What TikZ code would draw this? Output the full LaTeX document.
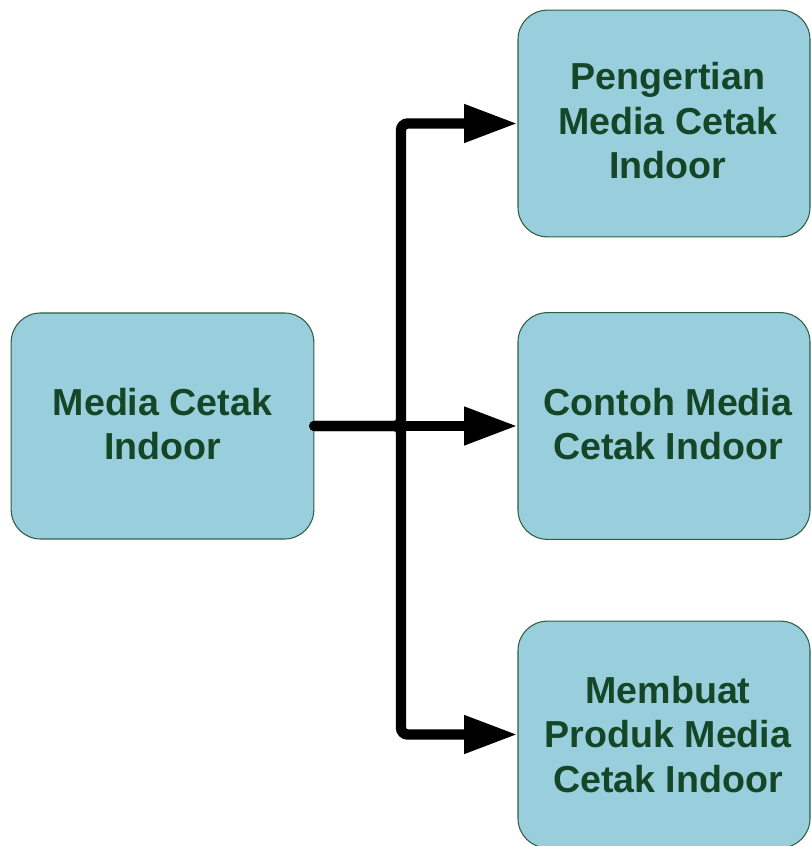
\documentclass[tikz,border=0pt]{standalone}
\usepackage{fontspec}
\setmainfont{Liberation Sans}
\usetikzlibrary{arrows.meta}
\definecolor{boxfill}{RGB}{153,207,220}
\definecolor{boxline}{RGB}{47,94,64}
\definecolor{boxtext}{RGB}{22,70,40}
\begin{document}
\begin{tikzpicture}[x=0.75pt,y=0.75pt,
  topic/.style={draw=boxline, line width=0.8pt, fill=boxfill,
    rounded corners=22pt, inner sep=0pt},
  srcbox/.style={topic, minimum width=227pt, minimum height=169.5pt},
  dstbox/.style={topic, minimum width=219pt, minimum height=170pt},
  caption/.style={align=center, inner sep=0pt, text=boxtext,
    font=\bfseries\fontsize{28.2}{33.4}\selectfont},
  conn/.style={line width=7.8pt, line cap=round, rounded corners=5pt,
    -{Triangle[length=40pt,width=27pt]}}]
  \useasboundingbox (0,0) rectangle (811,846);
  % topic boxes
  \node[srcbox] (src) at (162.5,420) {};
  \node[dstbox] (t1) at (664,722.5) {};
  \node[dstbox] (t2) at (664,420) {};
  \node[dstbox] (t3) at (664,111.5) {};
  % captions
  \node[caption] (srctext) at ([yshift=1.5pt]src.center) {Media Cetak\\Indoor};
  \node[caption] (t1text) at ([xshift=3pt,yshift=2pt]t1.center) {Pengertian\\Media Cetak\\Indoor};
  \node[caption] (t2text) at ([xshift=3pt,yshift=1.5pt]t2.center) {Contoh Media\\Cetak Indoor};
  \node[caption] (t3text) at ([xshift=3pt]t3.center) {Membuat\\Produk Media\\Cetak Indoor};
  % elbow connectors from the source to each topic
  \coordinate (fork) at ([xshift=65pt]src.east);
  \draw[conn] (src.east) -- (fork) |- (t1.west);
  \draw[conn] (src.east) -- (fork) |- (t3.west);
  \draw[conn] (src.east) -- (t2.west);
\end{tikzpicture}
\end{document}
